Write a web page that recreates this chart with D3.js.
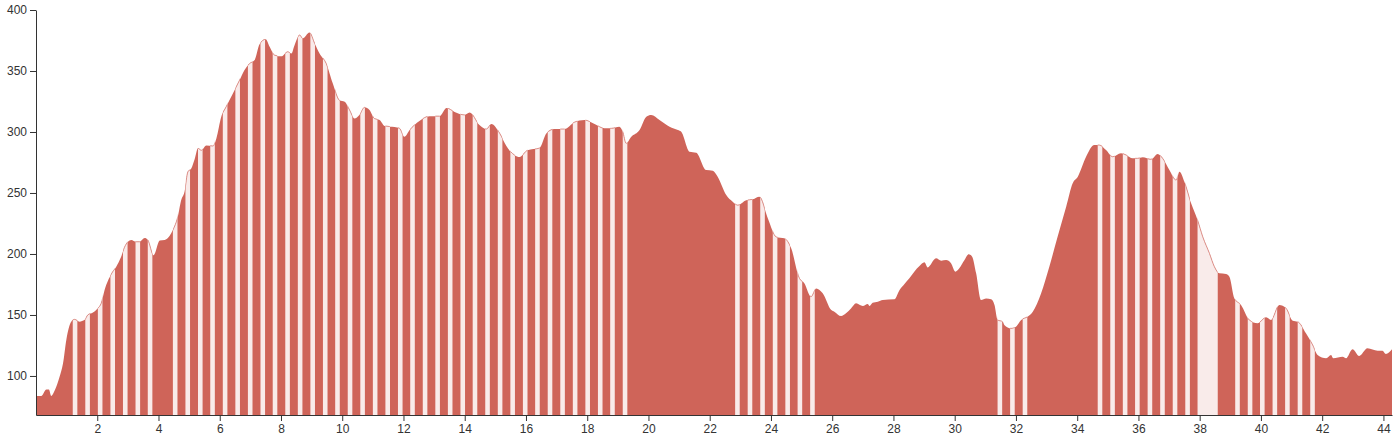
<!DOCTYPE html>
<html>
<head>
<meta charset="utf-8">
<script src="https://cdn.jsdelivr.net/npm/d3@7"></script>
<style>
  html, body { margin: 0; padding: 0; background: #fff; }
  svg { display: block; font-family: "Liberation Sans", Arial, sans-serif; }
  .axis text { font-size: 12px; fill: #333; }
  .axis path, .axis line { stroke: #333; }
</style>
</head>
<body>
<svg id="chart" width="1399" height="436"></svg>
<script>
// ---- data ----
const distanceKm = [0,0.17,0.34,0.42,0.50,0.61,0.77,0.88,0.99,1.15,
1.26,1.42,1.59,1.69,1.86,2.02,2.13,2.24,2.46,2.62,
2.78,2.89,3.11,3.27,3.38,3.55,3.65,3.84,4.04,4.20,
4.36,4.47,4.63,4.74,4.85,4.96,5.07,5.18,5.29,5.40,
5.56,5.78,5.89,6.05,6.21,6.43,6.65,6.81,6.97,7.14,
7.30,7.50,7.63,7.79,8.01,8.22,8.34,8.44,8.61,8.71,
8.93,9.10,9.26,9.48,9.69,9.91,10.08,10.24,10.40,10.56,
10.73,10.89,11.05,11.22,11.38,11.71,11.87,12.03,12.20,12.52,
12.85,13.18,13.41,13.67,13.99,14.16,14.48,14.71,14.87,15.14,
15.36,15.63,15.79,16.05,16.44,16.67,16.93,17.26,17.58,17.91,
18.24,18.56,18.79,19.05,19.16,19.27,19.44,19.71,19.93,20.09,
20.36,20.69,20.96,21.07,21.34,21.56,21.88,22.10,22.26,22.54,
22.75,22.92,23.19,23.41,23.62,23.90,24.17,24.44,24.66,24.93,
25.09,25.31,25.48,25.69,25.97,26.07,26.29,26.45,26.62,26.78,
27.00,27.16,27.22,27.32,27.49,27.65,28.03,28.20,28.36,28.52,
28.68,28.85,29.01,29.12,29.39,29.56,29.72,29.88,30.02,30.15,
30.32,30.46,30.57,30.70,30.86,31.03,31.19,31.30,31.40,31.57,
31.62,31.84,32.00,32.17,32.38,32.55,32.82,33.09,33.36,33.64,
33.85,34.02,34.29,34.56,34.72,34.94,35.16,35.43,35.60,35.81,
35.97,36.14,36.41,36.63,36.79,37.01,37.23,37.34,37.50,37.72,
37.93,38.10,38.32,38.48,38.64,38.86,38.97,39.13,39.35,39.62,
39.89,40.17,40.33,40.60,40.82,41.04,41.20,41.47,41.69,41.85,
42.13,42.29,42.36,42.67,42.78,42.99,43.21,43.48,43.81,43.97,
44.08,44.28];

const elevation = [83.6,83.6,89,89,83.6,88,99.4,110,129.5,144.5,
146.4,144.5,146,150,152,155.5,159.6,170.5,183.6,189.6,
197.8,205.5,211.5,210,210,213,211.5,199,211,211.5,
214.7,219.6,230.5,244,251,267.4,270,277.6,286.6,285,
289,288.5,294.7,312.5,320.7,331.6,342.6,350.8,356,359,
372,376,369.9,363,362,365.8,364.4,371,379.5,376.7,
381.5,372.6,364.4,356,339.9,326,324.8,318,311,313.9,
320.2,318,311,309.8,305,304,303,296,301.6,309,
313,313,319.6,316.4,314,316,305.7,302.4,306.5,299,
288.5,281,279.5,285,286.8,299,302.4,302.4,308,309.8,
306.5,303,303,304.3,300.2,290.7,296,301.6,312.5,313.9,
309.8,304.3,301.6,300.2,283.8,283,268.8,268.3,263.4,248.3,
242.8,240,244,244.8,247,229,214,212.8,204.6,180,
176,165,171.8,167.8,154,152.7,149.1,151.4,155.5,159.6,
157.3,159,157.3,160,160.9,162.3,162.8,170.5,175.4,180,
185.5,190.1,193.2,189,196.4,194.5,195,192.3,185.5,188.2,
195,199.7,197.8,184.1,162.3,163.6,162.8,158.2,145.9,144.5,
141.8,139,140.4,145.9,148.6,152.7,167.7,189.6,214.1,238.7,
257.8,263.3,279.7,289.3,289.3,285.2,279.7,282.5,281.1,278.4,
278.4,279.2,277.6,282,278.4,268.8,260.6,267.4,259.2,241.5,
227.8,214.1,200.4,189.6,184.1,183.6,181.4,163.7,158.2,145.9,
143.2,148.1,145.9,158.2,155.5,145.3,144.5,135,125.4,117.2,
114.5,117.2,114.5,115.8,114.5,121.9,116.4,122.7,120.7,120.7,
118,121.9];

// light (pale) segments, [startKm, endKm]
const paleSegments = [
[1.20,1.35],[1.61,1.76],[2.02,2.17],[2.43,2.58],[2.84,2.99],[3.25,3.40],[3.65,3.80],
[4.47,4.62],[4.88,5.03],[5.29,5.44],[5.69,5.84],[6.10,6.25],[6.51,6.66],[6.92,7.07],
[7.33,7.48],[7.73,7.88],[8.14,8.29],[8.55,8.70],[8.96,9.11],[9.37,9.52],[9.77,9.92],
[10.18,10.33],[10.59,10.74],[11.00,11.15],[11.41,11.56],[11.82,11.97],[12.22,12.37],
[12.63,12.78],[13.04,13.19],[13.45,13.60],[13.86,14.01],[14.26,14.41],[14.67,14.82],
[15.08,15.23],[15.49,15.64],[15.90,16.05],[16.30,16.45],[16.71,16.86],[17.12,17.27],
[17.53,17.68],[17.94,18.09],[18.35,18.50],[18.75,18.90],[19.16,19.31],
[22.83,22.98],[23.24,23.39],[23.65,23.80],[24.06,24.21],[24.47,24.62],[24.87,25.02],[25.28,25.43],
[31.40,31.55],[31.81,31.96],[32.22,32.37],
[34.67,34.82],[35.08,35.23],[35.49,35.64],[35.89,36.04],[36.30,36.45],[36.71,36.86],
[37.12,37.27],[37.53,37.68],[37.93,38.59],
[39.16,39.31],[39.57,39.72],[39.97,40.12],[40.38,40.53],[40.79,40.94],[41.20,41.35],[41.61,41.76]
];

const xTickValues = [2,4,6,8,10,12,14,16,18,20,22,24,26,28,30,32,34,36,38,40,42,44];
const yTickValues = [100,150,200,250,300,350,400];
const yDomain = [68, 400];

// ---- layout ----
const W = 1399, H = 436;
const margin = {top: 10, right: 7, bottom: 21, left: 36};
const iw = W - margin.left - margin.right;
const ih = H - margin.top - margin.bottom;

const redColor = "#cf6459";
const paleColor = "#f9ebea";
const paleStroke = "#dc918a";

const data = distanceKm.map((d, i) => ({km: d, ele: elevation[i]}));

const x = d3.scaleLinear().domain(d3.extent(distanceKm)).range([0, iw]);
const y = d3.scaleLinear().domain(yDomain).range([ih, 0]);

const svg = d3.select("#chart");
const g = svg.append("g").attr("transform", `translate(${margin.left},${margin.top})`);

const area = d3.area()
  .x(d => x(d.km))
  .y0(ih)
  .y1(d => y(d.ele))
  .curve(d3.curveMonotoneX);
const line = d3.line()
  .x(d => x(d.km))
  .y(d => y(d.ele))
  .curve(d3.curveMonotoneX);

// full red profile
g.append("path").datum(data)
  .attr("d", area)
  .attr("fill", redColor);

// pale segments
const defs = svg.append("defs");
paleSegments.forEach((s, i) => {
  defs.append("clipPath").attr("id", "pale" + i)
    .append("rect")
    .attr("x", x(s[0]))
    .attr("y", -5)
    .attr("width", x(s[1]) - x(s[0]))
    .attr("height", ih + 5);
  const pg = g.append("g").attr("clip-path", `url(#pale${i})`);
  pg.append("path").datum(data).attr("d", area).attr("fill", paleColor);
  pg.append("path").datum(data).attr("d", line)
    .attr("fill", "none").attr("stroke", paleStroke).attr("stroke-width", 1);
});

// axes
g.append("g")
  .attr("class", "axis")
  .attr("transform", `translate(0,${ih})`)
  .call(d3.axisBottom(x).tickValues(xTickValues).tickSizeOuter(0))
  .call(a => a.selectAll("text").attr("font-size", null).attr("font-family", null));

g.append("g")
  .attr("class", "axis")
  .call(d3.axisLeft(y).tickValues(yTickValues).tickSizeOuter(0))
  .call(a => a.selectAll("text").attr("font-size", null).attr("font-family", null));
svg.selectAll(".axis").attr("font-size", null).attr("font-family", null);
</script>
</body>
</html>
